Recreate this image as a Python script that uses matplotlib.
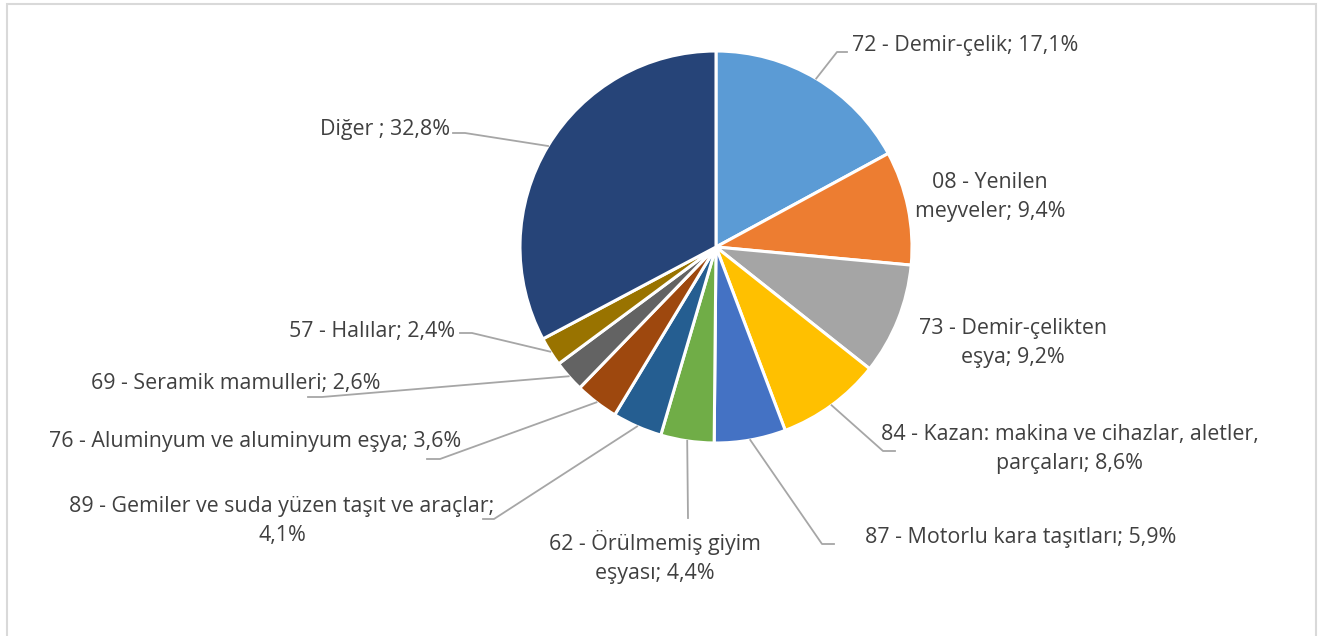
import numpy as np
import matplotlib.pyplot as plt
from matplotlib.patches import Rectangle

W, H = 1327, 636

labels = ['72 - Demir-çelik; 17,1%',
          '08 - Yenilen\nmeyveler; 9,4%',
          '73 - Demir-çelikten\neşya; 9,2%',
          '84 - Kazan: makina ve cihazlar, aletler,\nparçaları; 8,6%',
          '87 - Motorlu kara taşıtları; 5,9%',
          '62 - Örülmemiş giyim\neşyası; 4,4%',
          '89 - Gemiler ve suda yüzen taşıt ve araçlar;\n4,1%',
          '76 - Aluminyum ve aluminyum eşya; 3,6%',
          '69 - Seramik mamulleri; 2,6%',
          '57 - Halılar; 2,4%',
          'Diğer ; 32,8%']
values = [17.1, 9.4, 9.2, 8.6, 5.9, 4.4, 4.1, 3.6, 2.6, 2.4, 32.8]
colors = ['#5B9BD5', '#ED7D31', '#A5A5A5', '#FFC000', '#4472C4', '#70AD47',
          '#255E91', '#9E480E', '#636363', '#997300', '#264478']

# label placement in image pixels: (x, y, ha, leader elbow (x, y, end x) or None)
label_pos = [
    (852, 46, 'left', (837, 52, 847)),
    (990, 197, 'center', None),
    (1013, 343, 'center', None),
    (1070, 449, 'center', (883, 451, 895)),
    (1021, 537, 'center', (822, 544, 834)),
    (655, 557, 'center', (688, 518, 688)),
    (282, 521, 'center', (494, 519, 483)),
    (255, 441, 'center', (440, 459, 427)),
    (236, 383, 'center', (322, 397, 308)),
    (372, 331, 'center', (472, 333, 460)),
    (385, 129, 'center', (465, 133, 453)),
]

cx, cy, r = 716, 247, 196

plt.rcParams['font.family'] = ['Open Sans', 'DejaVu Sans']
fig = plt.figure(figsize=(W / 100, H / 100), dpi=100)
ax = fig.add_axes([0, 0, 1, 1])

ax.add_patch(Rectangle((7, -10), 1309, H - 4 + 10, fill=False,
                       edgecolor='#D9D9D9', linewidth=1.5))

wedges, _ = ax.pie(values, colors=colors, startangle=90, counterclock=False,
                   center=(cx, H - cy), radius=r, frame=True,
                   wedgeprops=dict(edgecolor='white', linewidth=2.2))
ax.set_xlim(0, W)
ax.set_ylim(0, H)
ax.set_aspect('equal')
ax.axis('off')

for w, lab, (tx, ty, ha, elbow) in zip(wedges, labels, label_pos):
    ax.text(tx, H - ty, lab, ha=ha, va='center', fontsize=15.4,
            color='#404040', linespacing=1.5)
    if elbow is None:
        continue
    mid = np.deg2rad((w.theta1 + w.theta2) / 2)
    sx = cx + r * np.cos(mid)
    sy = H - cy + r * np.sin(mid)
    ex, ey, hx = elbow
    ax.plot([sx, ex, hx], [sy, H - ey, H - ey], color='#A6A6A6', lw=1.3)

fig.savefig('out.png', dpi=100)
